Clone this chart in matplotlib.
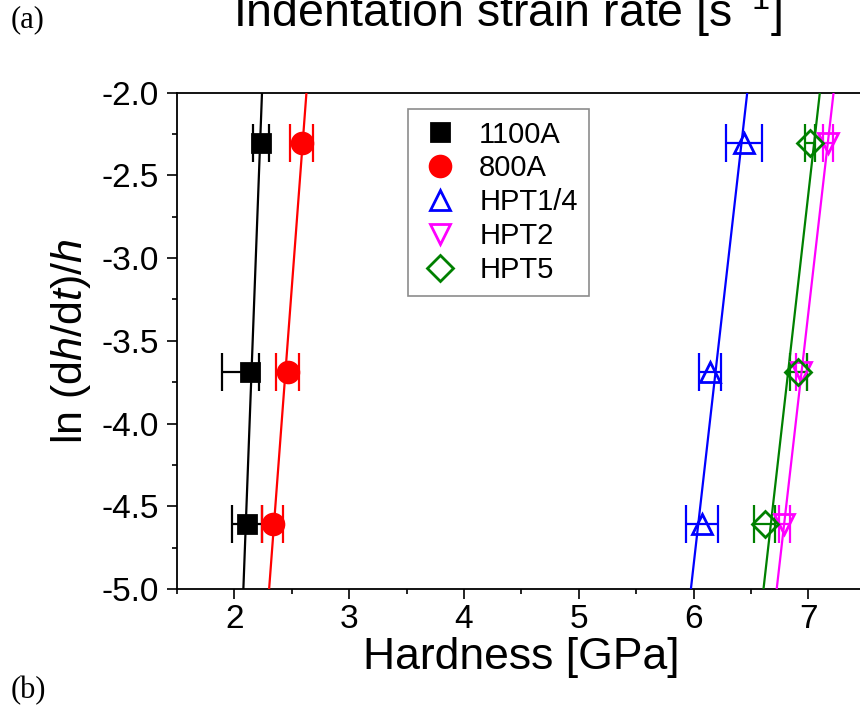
import numpy as np
import matplotlib
matplotlib.use("Agg")
import matplotlib.pyplot as plt
from matplotlib.ticker import MultipleLocator, FormatStrFormatter

plt.rcParams['font.family'] = ['Liberation Sans', 'DejaVu Sans']
plt.rcParams['mathtext.fontset'] = 'custom'
plt.rcParams['mathtext.rm'] = 'Liberation Sans'
plt.rcParams['mathtext.it'] = 'Liberation Sans:italic'

# ---- data ----
ln_rate = [-2.303, -3.689, -4.605]
samples = ['1100A', '800A', 'HPT1/4', 'HPT2', 'HPT5']
h_1100A = [2.23, 2.137, 2.108]
h_800A = [2.587, 2.467, 2.333]
h_HPT14 = [6.437, 6.144, 6.07]
h_HPT2 = [7.17, 6.94, 6.79]
h_HPT5 = [7.015, 6.913, 6.62]
err_1100A_lo = [0.07, 0.24, 0.13]
err_1100A_hi = [0.07, 0.08, 0.13]
err_800A = [0.10, 0.10, 0.095]
err_HPT14 = [0.157, 0.096, 0.14]
err_HPT2 = [0.045, 0.05, 0.05]
err_HPT5 = [0.045, 0.073, 0.09]

colors = ['#000000', '#ff0000', '#0000ff', '#ff00ff', '#008000']
markers = ['s', 'o', '^', 'v', 'D']
msizes = [12.5, 15, 15, 15, 13]
filled = [True, True, False, False, False]

hard = [h_1100A, h_800A, h_HPT14, h_HPT2, h_HPT5]
errs = [[err_1100A_lo, err_1100A_hi], err_800A, err_HPT14, err_HPT2, err_HPT5]

fig = plt.figure(figsize=(8.6, 7.08), dpi=100)
ax = fig.add_axes([0.2057, 0.168, 0.801, 0.7013])

yline = np.array([-5.0, -2.0])
for name, x, e, c, m, ms, f in zip(samples, hard, errs, colors, markers, msizes, filled):
    x = np.array(x)
    y = np.array(ln_rate)
    ax.errorbar(x, y, xerr=e, fmt='none', ecolor=c, elinewidth=1.6,
                capsize=13.5, capthick=1.6, zorder=2)
    b, a = np.polyfit(y, x, 1)
    ax.plot(a + b * yline, yline, color=c, lw=1.6, zorder=3)
    ax.plot(x, y, linestyle='none', marker=m, ms=ms,
            mfc=c if f else 'none', mec=c, mew=2.0, label=name, zorder=4)

ax.set_xlim(1.5, 7.5)
ax.set_ylim(-5.0, -2.0)
ax.xaxis.set_major_locator(MultipleLocator(1))
ax.xaxis.set_minor_locator(MultipleLocator(0.5))
ax.yaxis.set_major_locator(MultipleLocator(0.5))
ax.yaxis.set_minor_locator(MultipleLocator(0.25))
ax.tick_params(which='major', direction='out', length=7, width=1.2,
               labelsize=24, pad=4)
ax.tick_params(which='minor', direction='out', length=3.6, width=1.2)
ax.tick_params(axis='y', which='major', pad=6)
ax.yaxis.set_major_formatter(FormatStrFormatter('%.1f'))
for s in ax.spines.values():
    s.set_linewidth(1.3)
ax.spines['right'].set_visible(False)

ax.set_xlabel('Hardness [GPa]', fontsize=32, labelpad=1)
ax.set_ylabel(r'ln (d$\mathit{h}$/d$\mathit{t}$)/$\mathit{h}$', fontsize=31, labelpad=6)

leg = ax.legend(loc='upper left', bbox_to_anchor=(0.335, 0.967), borderaxespad=0,
                fontsize=21, frameon=True, fancybox=False, edgecolor='#707070',
                handlelength=1.4, handletextpad=0.65, labelspacing=0.2,
                borderpad=0.4, numpoints=1)
leg.get_frame().set_linewidth(1.2)

fig.text(0.59, 0.962, r'Indentation strain rate [s$^{\mathrm{-1}}$]', fontsize=33.5,
         ha='center', va='baseline')
fig.text(0.012, 0.972, '(a)', fontsize=22, family='Liberation Serif', va='center', ha='left')
fig.text(0.012, 0.025, '(b)', fontsize=22, family='Liberation Serif', va='center', ha='left')

fig.savefig('out.png', dpi=100)
